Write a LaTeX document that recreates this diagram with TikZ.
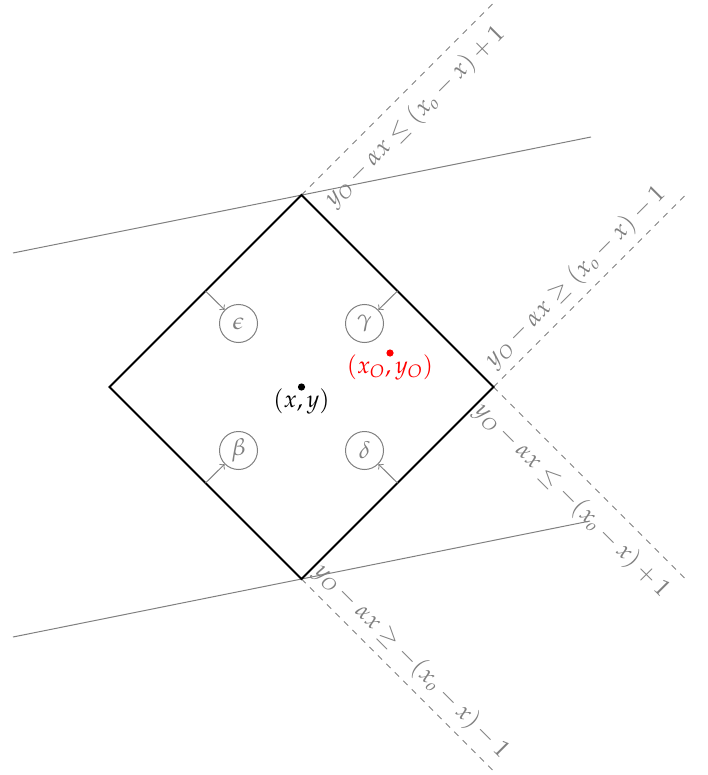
\documentclass[tikz,border=0pt]{standalone}
\usepackage{mathpazo}
\begin{document}
\begin{tikzpicture}[x=0.5pt,y=-0.5pt,
  font=\large,
  edgeline/.style={black, line width=1pt, line join=miter},
  guide/.style={gray, line width=0.5pt},
  dashguide/.style={gray, dashed, line width=0.5pt},
  lbl/.style={gray, sloped, midway},
  greek/.style={circle, draw=gray, text=gray, minimum size=19pt, inner sep=0pt, line width=0.5pt},
  dotpt/.style={circle, fill, inner sep=0pt, minimum size=3.6pt},
  ar/.style={->, gray, line width=0.5pt}]
\useasboundingbox (0,0) rectangle (707,775);
% diamond vertices
\coordinate (T) at (301.5,195);
\coordinate (L) at (109.5,387);
\coordinate (R) at (493.5,387);
\coordinate (B) at (301.5,579);
% guide line ends
\coordinate (TLa) at (13,253);
\coordinate (TLb) at (591,137);
\coordinate (BLa) at (13,637);
\coordinate (BLb) at (590,521);
\coordinate (TT) at (493.5,3);
\coordinate (RU) at (685.5,195);
\coordinate (RD) at (685.5,579);
\coordinate (BD) at (493.5,771);
% edge midpoints
\coordinate (mTL) at (205.5,291);
\coordinate (mTR) at (397.5,291);
\coordinate (mBL) at (205.5,483);
\coordinate (mBR) at (397.5,483);

\draw[guide] (TLa) -- (TLb);
\draw[guide] (BLa) -- (BLb);

\draw[dashguide] (T) -- (TT) node[lbl, below=2.5pt] {$y_O-\alpha x\leq(x_o-x)+1$};
\draw[dashguide] (R) -- (RU) node[lbl, above] {$y_O-\alpha x\geq(x_o-x)-1$};
\draw[dashguide] (R) -- (RD) node[lbl, below=2.5pt] {$y_O-\alpha x\leq-(x_o-x)+1$};
\draw[dashguide] (B) -- (BD) node[lbl, above] {$y_O-\alpha x\geq-(x_o-x)-1$};

\draw[edgeline] (T) -- (R) -- (B) -- (L) -- cycle;

\node[greek] (eps) at (238.5,323.5) {$\epsilon$};
\node[greek] (gam) at (364.5,323.5) {$\gamma$};
\node[greek] (bet) at (238.5,450.5) {$\beta$};
\node[greek] (del) at (364.5,450.5) {$\delta$};

\draw[ar] (mTL) -- (eps);
\draw[ar] (mTR) -- (gam);
\draw[ar] (mBL) -- (bet);
\draw[ar] (mBR) -- (del);

\node[dotpt] (p) at (301.5,387) {};
\node (pl) at (301.5,401) {$(x,y)$};
\node[dotpt, red] (q) at (390,353) {};
\node[red] (ql) at (390,367) {$(x_O,y_O)$};
\end{tikzpicture}
\end{document}
